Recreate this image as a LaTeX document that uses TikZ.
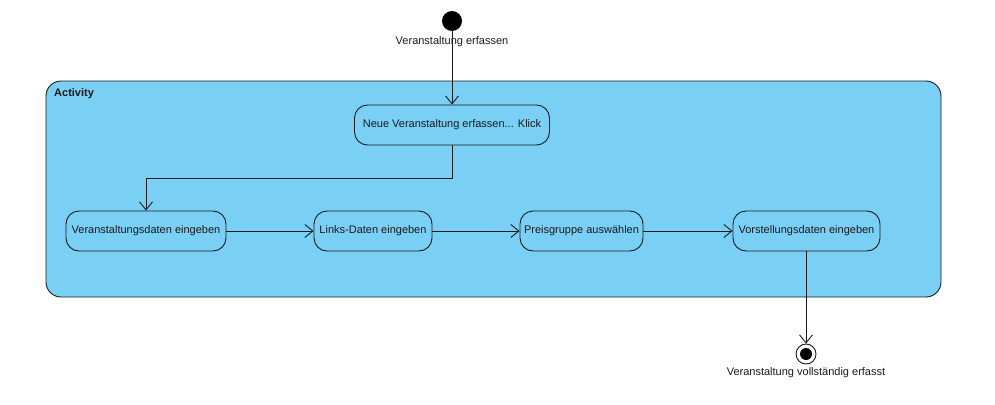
\documentclass[tikz,border=0pt]{standalone}
\usepackage{fontspec}
\setmainfont{Liberation Sans}
\usetikzlibrary{arrows.meta,positioning}
\definecolor{actblue}{HTML}{7ACFF5}
\definecolor{ink}{HTML}{1A1A1A}
\begin{document}
\begin{tikzpicture}[x=1pt,y=-1pt,
  every node/.style={font=\fontsize{11}{13}\selectfont, text=ink},
  actbox/.style={draw=ink, line width=0.9pt, rounded corners=13pt, fill=actblue, minimum height=40pt, inner sep=0pt},
  flow/.style={draw=ink, line width=0.9pt, -{Straight Barb[length=8pt,width=13pt,line width=0.9pt]}},
  lbl/.style={inner sep=0pt}]
\useasboundingbox (0,0) rectangle (995,404);
% container
\node[draw=ink, line width=0.9pt, rounded corners=15pt, fill=actblue, minimum width=895pt, minimum height=216pt, inner sep=0pt] (cont) at (493.5,189) {};
\node[lbl, anchor=west, font=\fontsize{11}{13}\selectfont\bfseries] (title) at (54,94) {Activity};
% initial
\node[circle, fill=black, minimum size=20pt, inner sep=0pt] (start) at (452,21) {};
\node[lbl] (startlbl) at (452,42) {Veranstaltung erfassen};
% actions
\node[actbox, minimum width=195pt] (a) at (452,125) {Neue Veranstaltung erfassen... Klick};
\node[actbox, minimum width=160pt] (b) at (146,231) {Veranstaltungsdaten eingeben};
\node[actbox, minimum width=118pt] (c) at (373,231) {Links-Daten eingeben};
\node[actbox, minimum width=123pt] (d) at (581.5,231) {Preisgruppe auswählen};
\node[actbox, minimum width=147pt] (e) at (806.5,231) {Vorstellungsdaten eingeben};
% final
\node[circle, draw=ink, line width=0.9pt, fill=white, minimum size=20pt, inner sep=0pt] (end) at (806,354) {};
\node[circle, fill=black, minimum size=12pt, inner sep=0pt] (endin) at (end.center) {};
\node[lbl] (endlbl) at (806,373) {Veranstaltung vollständig erfasst};
% flows
\draw[flow] (start.south) -- (a.north);
\coordinate (k1) at (452,178);
\coordinate (k2) at (146,178);
\draw[flow] (a.south) -- (k1) -- (k2) -- (b.north);
\draw[flow] (b.east) -- (c.west);
\draw[flow] (c.east) -- (d.west);
\draw[flow] (d.east) -- (e.west);
\draw[flow] (e.south -| end.north) -- (end.north);
\end{tikzpicture}
\end{document}
